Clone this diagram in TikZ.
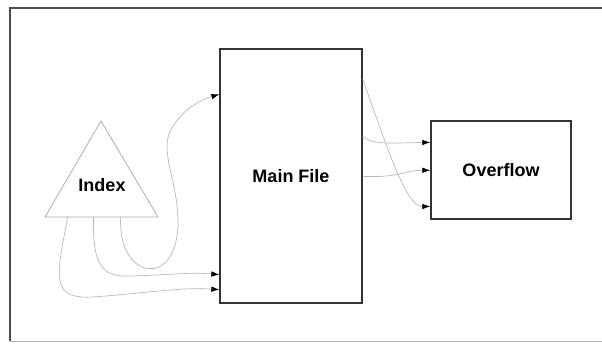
\documentclass[tikz,border=0pt]{standalone}
\usepackage{fontspec}
\setmainfont{Liberation Sans}
\usetikzlibrary{arrows.meta,calc,positioning}

\begin{document}
\begin{tikzpicture}[x=1pt,y=-1pt]
\tikzset{
    box/.style={draw=black!80, line width=1.3pt, inner sep=0pt, font=\fontsize{18}{20}\selectfont\bfseries},
    link/.style={draw=black!28, line width=0.7pt, -{Latex[black,length=8pt,width=5.5pt]}},
    frame/.style={draw=black!70, line width=1.1pt}
}
\useasboundingbox (0,0) rectangle (602,345);

% --- frame ---
\draw[frame] (602,8) -| (10,341);
\draw[draw=black!30, line width=0.8pt] (10,341) -- (602,341);

% --- nodes ---
\node[box, minimum width=142pt, minimum height=254pt] (main) at (291,176) {Main File};
\node[box, minimum width=140pt, minimum height=98pt] (over) at (501,170) {Overflow};

\coordinate (iapex) at (101,121);
\coordinate (ileft) at (45,217);
\coordinate (iright) at (158,217);
\draw[draw=black!35, line width=0.7pt] (iapex) -- (ileft) -- (iright) -- cycle;
\node[font=\fontsize{18}{20}\selectfont\bfseries] (index) at (102,185) {Index};

\coordinate (b1) at ($(ileft)!0.2!(iright)$);
\coordinate (b2) at ($(ileft)!0.43!(iright)$);
\coordinate (b3) at ($(ileft)!0.67!(iright)$);

% --- edges (index to main) ---
\draw[link] (b3) .. controls (117,280) and (178,290) .. (178,222)
    .. controls (178,180) and (158,150) .. (172,128)
    .. controls (182,110) and (200,100) .. ([yshift=-46pt]main.north west);
\draw[link] (b2) .. controls (92,268) and (104,277) .. (130,276)
    .. controls (170,275) and (190,272) .. ([yshift=29pt]main.south west);
\draw[link] (b1) .. controls (64,240) and (57,265) .. (60,281)
    .. controls (63,295) and (75,298) .. (92,297)
    .. controls (150,293) and (180,287) .. ([yshift=14pt]main.south west);

% --- edges (main to overflow) ---
\draw[link] ([yshift=-31pt]main.north east) .. controls (385,140) and (405,207) .. ([yshift=-86pt]over.north west);
\draw[link] ([yshift=-88pt]main.north east) .. controls (372,145) and (390,143) .. ([yshift=-22pt]over.north west);
\draw[link] ([yshift=-128pt]main.north east) .. controls (400,178) and (405,170) .. ([yshift=-50pt]over.north west);
\end{tikzpicture}
\end{document}
